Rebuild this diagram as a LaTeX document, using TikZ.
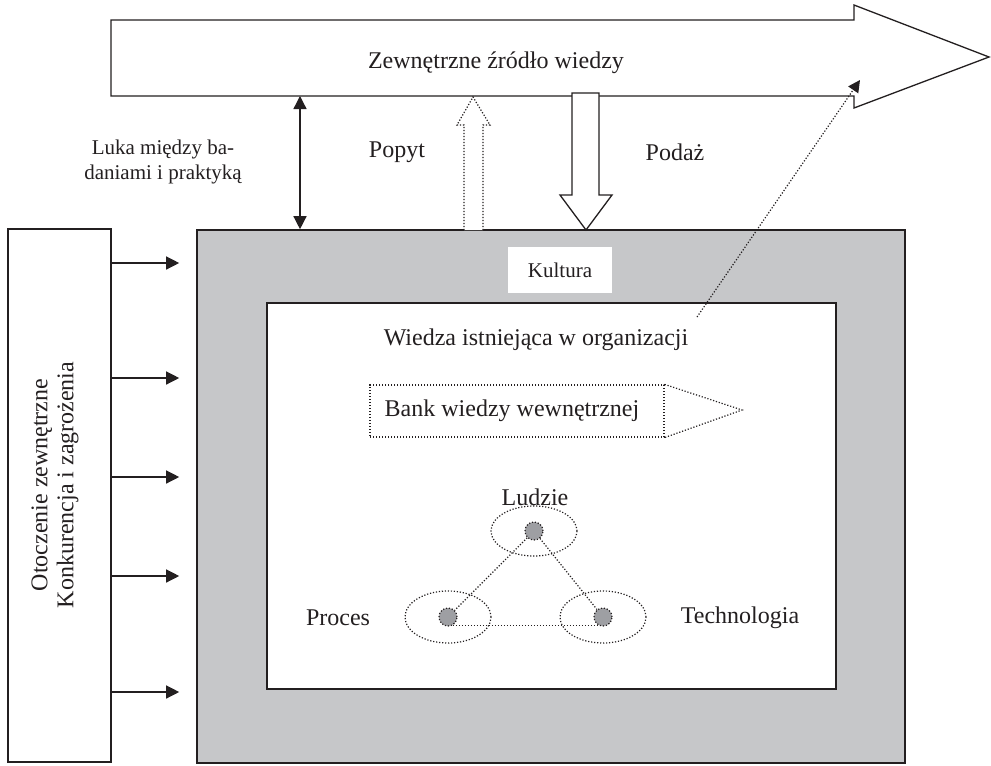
\documentclass[tikz,border=0pt]{standalone}
\usepackage{fontspec}
\setmainfont{Liberation Serif}
\usetikzlibrary{arrows.meta,shapes.geometric,calc}
\definecolor{orggray}{HTML}{C6C7C9}
\definecolor{dotgray}{HTML}{9E9FA3}
\definecolor{ink}{HTML}{231F20}

\begin{document}
\begin{tikzpicture}[x=1pt,y=-1pt,
  every node/.style={font=\fontsize{24}{26}\selectfont, text=ink, inner sep=0pt},
  smalltext/.style={font=\fontsize{21}{25}\selectfont},
  solidline/.style={draw=ink, line width=1.3pt},
  heavyline/.style={draw=ink, line width=1.6pt},
  dotline/.style={draw=ink, line width=1.2pt, dash pattern=on 1.2pt off 1.8pt},
  headtip/.style={-{Triangle[length=13pt,width=13pt]}},
  twotips/.style={{Triangle[length=13pt,width=13pt]}-{Triangle[length=13pt,width=13pt]}},
  gapdot/.style={circle, fill=dotgray, dotline, minimum size=18pt}]
\useasboundingbox (0,0) rectangle (991,766);

% external knowledge source: wide block arrow
\draw[solidline, fill=white] (111,20) -- (854,20) -- (854,5) -- (989,57)
  -- (854,108) -- (854,96) -- (111,96) -- cycle;
\node (src) at (496,63) {Zewnętrzne źródło wiedzy};
\coordinate (srcbottom) at (300,96);
\coordinate (srctarget) at (860,80);

% external environment
\node[solidline, fill=white, minimum width=103pt, minimum height=533pt] (env) at (59.5,495.5) {};
\node[rotate=90, align=center] (envtxt) at (55,485) {Otoczenie zewnętrzne\\Konkurencja i zagrożenia};

% organisation (culture) and the knowledge inside it
\node[heavyline, fill=orggray, minimum width=708pt, minimum height=533pt] (org) at (551,496.5) {};
\node[fill=white, minimum width=104pt, minimum height=46pt, smalltext] (kult) at (560,270) {Kultura};
\node[solidline, fill=white, minimum width=569pt, minimum height=386pt] (know) at (551.5,496) {};
\node (knowtxt) at (536,340) {Wiedza istniejąca w organizacji};

% pressure of the environment
\foreach \yy in {263,378,477,576,692}
  \draw[solidline, headtip] (env.east |- 0,\yy) -- ($(org.west |- 0,\yy)+(-17,0)$);

% gap between research and practice
\draw[solidline, twotips] (srcbottom) -- (org.north -| srcbottom);
\node[align=center, smalltext] (luka) at (163,162) {Luka między ba-\\daniami i praktyką};

% demand (dotted, upwards) and supply (solid, downwards)
\node (popyt) at (397,152) {Popyt};
\node (podaz) at (675,152) {Podaż};
\draw[dotline, fill=white] (464,230) -- (464,125) -- (457,125) -- (473,97)
  -- (490,125) -- (483,125) -- (483,230);
\draw[solidline, fill=white] (572,93) -- (599,93) -- (599,195) -- (612,195)
  -- (586,230) -- (560,195) -- (572,195) -- cycle;

% internal knowledge bank
\node[dotline, minimum width=294pt, minimum height=52pt] (bank) at (517,411) {};
\draw[dotline] (bank.north east) -- (742,410) -- (bank.south east);
\node (banktxt) at (512,411) {Bank wiedzy wewnętrznej};

% people, process, technology
\node (ludzie) at (535,497) {Ludzie};
\node (proces) at (338,618) {Proces};
\node (tech) at (740,618) {Technologia};
\draw[dotline] (534,531) ellipse [x radius=43pt, y radius=25pt];
\draw[dotline] (448,617) ellipse [x radius=43pt, y radius=26pt];
\draw[dotline] (603,617) ellipse [x radius=43pt, y radius=26pt];
\node[gapdot] (tdot) at (534,531) {};
\node[gapdot] (ldot) at (448,617) {};
\node[gapdot] (rdot) at (603,617) {};
\draw[dotline] (tdot) -- (ldot);
\draw[dotline] (tdot) -- (rdot);
\draw[dotline] (ldot.-60) -- (rdot.-120);

% knowledge flowing back to the external source
\coordinate (knowout) at (697,317);
\draw[dotline, -{Triangle[length=12pt,width=12pt]}] (knowout) -- (srctarget);
\end{tikzpicture}
\end{document}
